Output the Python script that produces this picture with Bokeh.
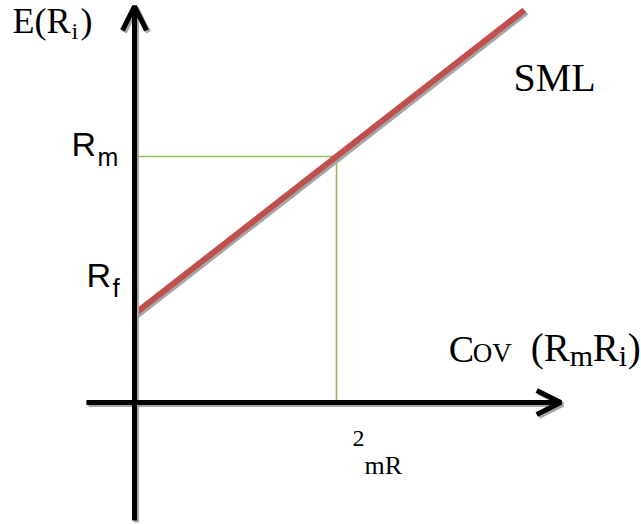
from bokeh.plotting import figure
from bokeh.models import Arrow, OpenHead, Range1d
from bokeh.embed import file_html
from bokeh.resources import INLINE
from bokeh.core.properties import value

# ---- data (diagram units: x = Cov(Rm,Ri) with Cov(Rm,Rm)=1, y = expected return) ----
cov_market = 1.0          # sigma^2_m
rf = 0.36                 # risk-free rate
rm = 1.0                  # market return
sml_x = [0.0, 1.93]
sml_y = [rf + (rm - rf) * x / cov_market for x in sml_x]
x_axis_ends = [-0.238, 2.11]   # horizontal axis extent (arrow at right)
y_axis_ends = [-0.48, 1.61]    # vertical axis extent (arrow at top)

W, H = 641, 524
x_range = Range1d(-0.6634, 2.5099)
y_range = Range1d(-0.4959, 1.6341)
PXX = W / (x_range.end - x_range.start)
PXY = H / (y_range.end - y_range.start)

p = figure(width=W, height=H, x_range=x_range, y_range=y_range,
           output_backend="svg", toolbar_location=None,
           min_border=0, outline_line_color=None)
p.axis.visible = False
p.grid.visible = False
p.background_fill_color = "white"
p.border_fill_color = "white"

SH = "#a6a6a6"
sdx, sdy = 2 / PXX, -2 / PXY

# axes with shadows
for col, ox, oy in [(SH, sdx, sdy), ("black", 0, 0)]:
    p.add_layout(Arrow(x_start=x_axis_ends[0] + ox, y_start=0 + oy,
                       x_end=x_axis_ends[1] + ox, y_end=0 + oy,
                       line_color=col, line_width=5,
                       end=OpenHead(size=24, line_width=5, line_color=col)))
    p.add_layout(Arrow(x_start=0 + ox, y_start=y_axis_ends[0] + oy,
                       x_end=0 + ox, y_end=y_axis_ends[1] + oy,
                       line_color=col, line_width=5,
                       end=OpenHead(size=24, line_width=5, line_color=col)))

# green guide lines
p.line([0, cov_market], [rm, rm], line_color="#9bbb59", line_width=1.6)
p.line([cov_market, cov_market], [rm, 0], line_color="#9bbb59", line_width=1.6)

# SML with shadow
p.line([x + sdx for x in sml_x], [y + sdy for y in sml_y], line_color=SH, line_width=6)
p.line(sml_x, sml_y, line_color="#c0504d", line_width=6)

SERIF = "Liberation Serif"
SANS = "Liberation Sans"

def label(txt, x, y, dx, dy, size, font):
    # baseline correction for the rendered text position
    dy = dy - round(0.4 * size)
    p.text(x=[x], y=[y], text=[txt], x_offset=dx, y_offset=dy,
           text_font=value(font), text_font_size=f"{size}px",
           text_align="left", text_baseline="alphabetic", text_color="black")

# y-axis title E(R_i)
label("E(R", 0, rm, -122, -121, 36, SERIF)
label("i", 0, rm, -63, -115, 24, SERIF)
label(")", 0, rm, -54, -121, 36, SERIF)

# R_m and R_f tick labels
label("R", 0, rm, -63, 2, 34, SANS)
label("m", 0, rm, -37, 11, 25, SANS)
label("R", 0, rf, -48, -25, 34, SANS)
label("f", 0, rf, -22, -16, 26, SANS)

# SML label
label("SML", cov_market, rm, 177, -63, 40, SERIF)

# x-axis title Cov (R_m R_i), anchored at the horizontal axis tip
xt = x_axis_ends[1]
label("C", xt, 0, -112, -39, 38, SERIF)
label("OV", xt, 0, -88, -39, 27, SERIF)
label("(R", xt, 0, -30, -39, 39, SERIF)
label("m", xt, 0, 9, -35, 30, SERIF)
label("R", xt, 0, 32, -39, 39, SERIF)
label("i", xt, 0, 58, -35, 30, SERIF)
label(")", xt, 0, 67, -39, 39, SERIF)

# sigma^2_m label under the market covariance
label("2", cov_market, 0, 16, 46, 24, SERIF)
label("mR", cov_market, 0, 28, 73, 26, SERIF)

open("out.html", "w").write(file_html(p, INLINE))
